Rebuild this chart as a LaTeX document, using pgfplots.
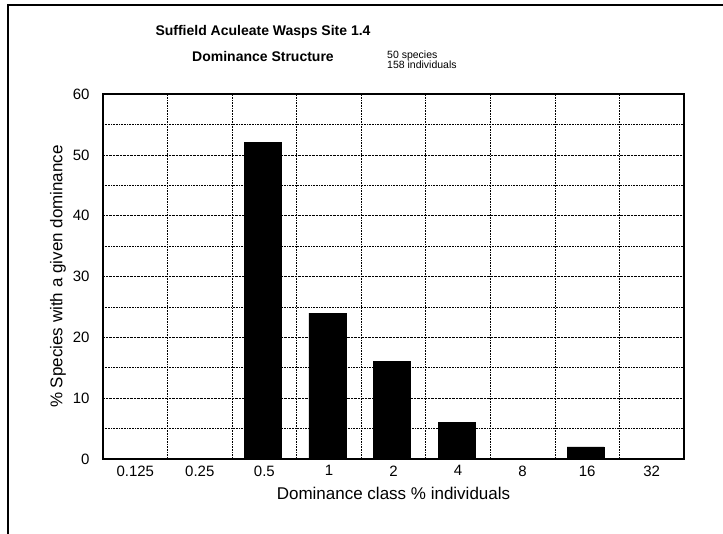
\documentclass[border=0pt]{standalone}
\usepackage{fontspec}
\setmainfont{Liberation Sans}
\usepackage{pgfplots}
\pgfplotsset{compat=1.18}
\begin{document}
\begin{tikzpicture}[x=1pt,y=1pt]
\useasboundingbox (0,0) rectangle (723,-534);
\draw[line width=1.2pt] (8,-534) -- (8,-5) -- (723,-5);
\begin{axis}[at={(103pt,-459pt)}, anchor=south west, scale only axis,
  width=581pt, height=365pt,
  xmin=-0.5, xmax=8.5, ymin=0, ymax=60,
  xtick={0,...,8}, xticklabels={0.125,0.25,0.5,1,2,4,8,16,32},
  ytick={0,10,...,60},
  minor xtick={0.5,1.5,...,7.5}, minor ytick={5,15,...,55},
  ymajorgrids, yminorgrids, xminorgrids,
  major tick length=0pt, minor tick length=0pt,
  grid style={densely dotted, line width=0.6pt, black},
  minor grid style={densely dotted, line width=0.6pt, black},
  axis line style={line width=1.5pt},
  tick label style={font=\fontsize{15pt}{15pt}\selectfont},
  /pgf/number format/assume math mode=true,
  yticklabel style={xshift=-10pt},
  xticklabel style={yshift=-3pt},
  xlabel={Dominance class \% individuals},
  ylabel={\% Species with a given dominance},
  label style={font=\fontsize{17pt}{17pt}\selectfont},
  xlabel style={at={(rel axis cs:0.5,0)}, anchor=center, yshift=-34pt},
  ylabel style={at={(rel axis cs:0,0.5)}, anchor=center, rotate=0, yshift=45pt},
  ybar, bar width=37pt,
]
\addplot[fill=black, draw=black, bar shift=-1.5pt] coordinates {(0,0) (1,0) (2,52) (3,24) (4,16) (5,6) (6,0) (7,2) (8,0)};
\end{axis}
\node[font=\bfseries\fontsize{14pt}{14pt}\selectfont] at (263,-32) {Suffield Aculeate Wasps Site 1.4};
\node[font=\bfseries\fontsize{14pt}{14pt}\selectfont] at (263,-57) {Dominance Structure};
\node[anchor=west, align=left, inner sep=0pt, font=\fontsize{10.5pt}{10pt}\selectfont] at (387,-60) {50 species\\158 individuals};
\end{tikzpicture}
\end{document}
